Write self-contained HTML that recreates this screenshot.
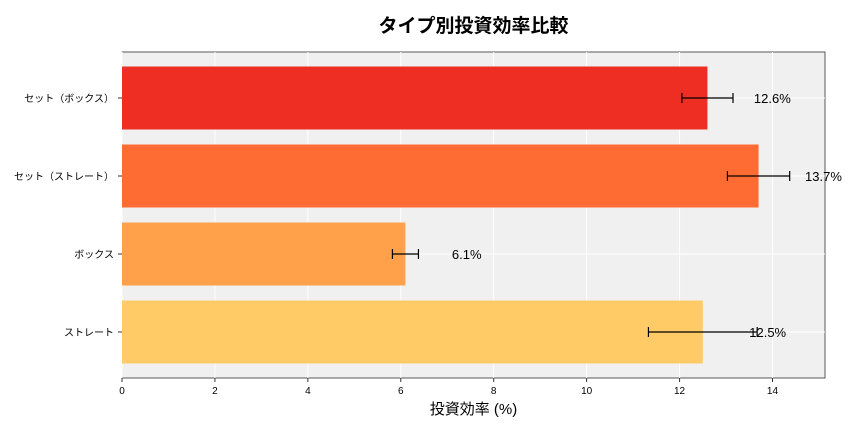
<!DOCTYPE html>
<html><head><meta charset="utf-8"><style>
body{margin:0;background:#fff;font-family:"Liberation Sans","Noto Sans CJK JP",sans-serif}
</style></head><body>
<svg id="chart" width="864" height="432" xmlns="http://www.w3.org/2000/svg" font-family="Liberation Sans, Noto Sans CJK JP, sans-serif"></svg>
<script>
const categories = ["ストレート","ボックス","セット（ストレート）","セット（ボックス）"];
const values = [12.5, 6.1, 13.7, 12.6];
const errors = [1.17, 0.28, 0.67, 0.55];
const valueLabels = ["12.5%","6.1%","13.7%","12.6%"];
const xTicks = [0,2,4,6,8,10,12,14];
const colors = ["#fecb67","#fea14a","#fe6b33","#ee2e22"];

const NS="http://www.w3.org/2000/svg";
const svg=document.getElementById('chart');
const L=122,R=825,T=52,B=378,xMax=15.13;
const x=v=>L+v/xMax*(R-L);
const y=i=>332-i*78;
function mk(tag,attrs,parent){const e=document.createElementNS(NS,tag);for(const k in attrs)e.setAttribute(k,attrs[k]);(parent||svg).appendChild(e);return e;}
const bg=mk('rect',{x:L,y:T,width:R-L,height:B-T,fill:'#f0f0f0',stroke:'#333','stroke-width':0.8});


xTicks.forEach(t=>{
  const g=mk('line',{x1:x(t),x2:x(t),y1:T,y2:B,stroke:'#fff','stroke-width':1});
  
  
  const tk=mk('line',{x1:x(t),x2:x(t),y1:B,y2:B+4,stroke:'#333'});
  
  
  const tl=mk('text',{x:x(t),y:B+16,'font-size':10,'text-anchor':'middle',fill:'#000'});
  tl.textContent=t;
  
  
});
categories.forEach((c,i)=>{
  const g=mk('line',{x1:L,x2:R,y1:y(i),y2:y(i),stroke:'#fff','stroke-width':1});
  
  
});
categories.forEach((c,i)=>{
  const cy=y(i);
  const b=mk('rect',{x:L,y:cy-31.5,width:x(values[i])-L,height:63,fill:colors[i]});
  
  
  const x1=x(values[i]-errors[i]),x2=x(values[i]+errors[i]);
  const eg=mk('g',{stroke:'#000','stroke-width':1.2});
  
  
  mk('line',{x1:x1,x2:x2,y1:cy,y2:cy},eg);
  mk('line',{x1:x1,x2:x1,y1:cy-5,y2:cy+5},eg);
  mk('line',{x1:x2,x2:x2,y1:cy-5,y2:cy+5},eg);
  const vl=mk('text',{x:x(values[i]+1),y:cy+5,'font-size':13,fill:'#000'});
  vl.textContent=valueLabels[i];
  
  
  const tk=mk('line',{x1:L-4,x2:L,y1:cy,y2:cy,stroke:'#333'});
  
  
  const cl=mk('text',{x:L-8,y:cy+4,'font-size':10,'text-anchor':'end',fill:'#000'});
  cl.textContent=c;
  
  
});
const xt=mk('text',{x:(L+R)/2,y:414,'font-size':15,'text-anchor':'middle',fill:'#000'});
xt.textContent='投資効率 (%)';


const tt=mk('text',{x:(L+R)/2,y:32,'font-size':19,'font-weight':'bold','text-anchor':'middle',fill:'#000'});
tt.textContent='タイプ別投資効率比較';


</script>
</body></html>
